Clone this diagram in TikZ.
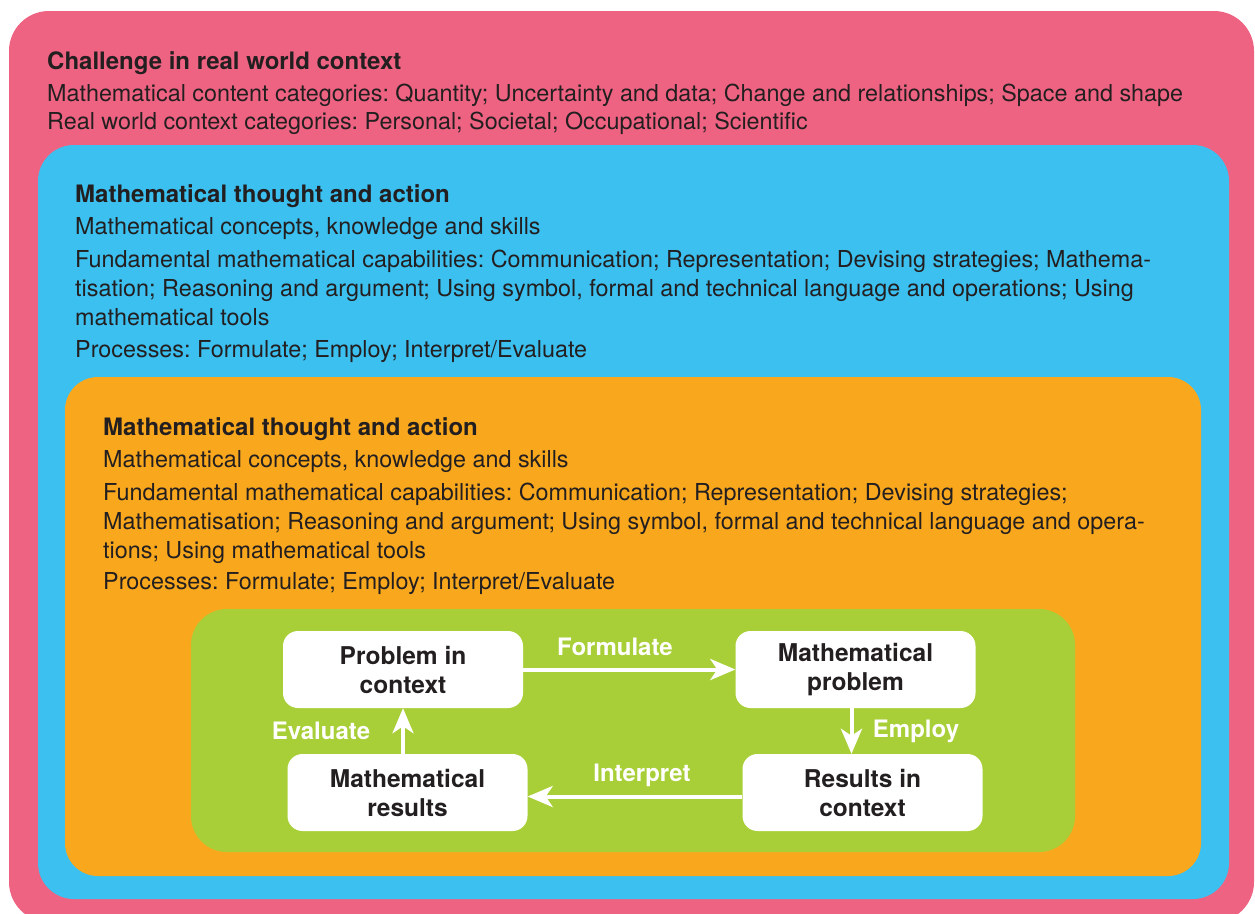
\documentclass[tikz,border=0pt]{standalone}
\usepackage{fontspec}
\setmainfont{TeX Gyre Heros}
\usetikzlibrary{arrows.meta}
\definecolor{pinkc}{HTML}{EF6382}
\definecolor{bluec}{HTML}{3BC0EF}
\definecolor{orangec}{HTML}{F9A81E}
\definecolor{greenc}{HTML}{A9CF38}
\definecolor{darktext}{HTML}{231F20}
\frenchspacing
\begin{document}
\begin{tikzpicture}[x=1pt,y=-1pt,
  head/.style={anchor=base west, inner sep=0pt, text=darktext, font=\fontsize{24}{28}\selectfont\bfseries},
  body/.style={anchor=base west, inner sep=0pt, text=darktext, font=\fontsize{23.35}{29}\selectfont, align=left},
  stepbox/.style={fill=white, rounded corners=15pt, minimum width=240pt, minimum height=77pt, inner sep=0pt, align=center, text=darktext, font=\fontsize{24.5}{29}\selectfont\bfseries},
  flow/.style={draw=white, line width=4pt, -{Stealth[length=25pt,width=21pt,inset=7pt]}},
  lab/.style={text=white, inner sep=0pt, font=\fontsize{24}{28}\selectfont\bfseries}]
\useasboundingbox (0,0) rectangle (1255,913);
\clip (0,0) rectangle (1255,913);
\fill[white] (0,0) rectangle (1255,913);
% layers
\fill[pinkc, rounded corners=40pt] (9,11) rectangle (1254,922);
\fill[bluec, rounded corners=36pt] (38,145) rectangle (1229,899);
\fill[orangec, rounded corners=33pt] (65,377) rectangle (1201,876);
\fill[greenc, rounded corners=36pt] (191,609) rectangle (1075,852);
% pink texts
\node[head] (h1) at (47,69) {Challenge in real world context};
\node[body] (p1a) at (47,101) {Mathematical content categories: Quantity; Uncertainty and data; Change and relationships; Space and shape};
\node[body] (p1b) at (47,129) {Real world context categories: Personal; Societal; Occupational; Scientific};
% blue texts
\node[head] (h2) at (75,202) {Mathematical thought and action};
\node[body] (p2a) at (75,234) {Mathematical concepts, knowledge and skills};
\node[body,anchor=north west] (p2b) at (75,250) {Fundamental mathematical capabilities: Communication; Representation; Devising strategies; Mathema-\\tisation; Reasoning and argument; Using symbol, formal and technical language and operations; Using\\mathematical tools};
\node[body] (p2c) at (75,357) {Processes: Formulate; Employ; Interpret/Evaluate};
% orange texts
\node[head] (h3) at (103,435) {Mathematical thought and action};
\node[body] (p3a) at (103,467) {Mathematical concepts, knowledge and skills};
\node[body,anchor=north west] (p3b) at (103,483) {Fundamental mathematical capabilities: Communication; Representation; Devising strategies;\\Mathematisation; Reasoning and argument; Using symbol, formal and technical language and opera-\\tions; Using mathematical tools};
\node[body] (p3c) at (103,589) {Processes: Formulate; Employ; Interpret/Evaluate};
% cycle
\node[stepbox] (pic) at (403,669.5) {Problem in\\context};
\node[stepbox] (mp) at (855.5,669.5) {Mathematical\\problem};
\node[stepbox] (rc) at (862.5,792.5) {Results in\\context};
\node[stepbox] (mr) at (407.5,792.5) {Mathematical\\results};
\draw[flow] (pic.east) -- (mp.west);
\draw[flow] ([xshift=-4pt]mp.south) -- ([xshift=-4pt]mp.south |- rc.north);
\draw[flow] ([yshift=-4pt]rc.west) -- ([yshift=-4pt]rc.west -| mr.east);
\draw[flow] (mr.north -| pic.south) -- (pic.south);
\node[lab] (lf) at (615,647) {Formulate};
\node[lab] (le) at (916,731) {Employ};
\node[lab] (li) at (642,775) {Interpret};
\node[lab] (lv) at (321,731) {Evaluate};
\end{tikzpicture}
\end{document}
